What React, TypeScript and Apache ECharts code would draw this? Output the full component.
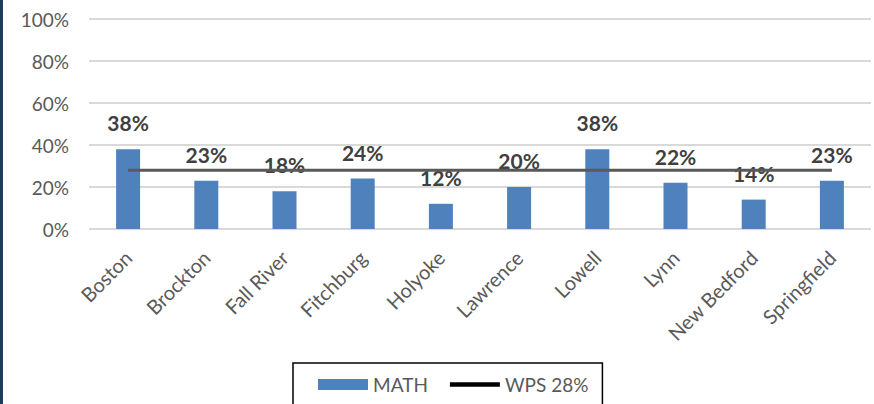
import React, { useEffect, useRef } from "react";
import * as echarts from "echarts";

const categories = ["Boston", "Brockton", "Fall River", "Fitchburg", "Holyoke", "Lawrence", "Lowell", "Lynn", "New Bedford", "Springfield"];
const mathValues = [38, 23, 18, 24, 12, 20, 38, 22, 14, 23];
const wpsValues = [28, 28, 28, 28, 28, 28, 28, 28, 28, 28];
const yTicks = [0, 20, 40, 60, 80, 100];

export default function App() {
  const ref = useRef<HTMLDivElement>(null);
  useEffect(() => {
    if (!ref.current) return;
    const chart = echarts.init(ref.current, null, { renderer: "svg" });
    const font = "Lato, 'Open Sans', sans-serif";
    chart.setOption({
      animation: false,
      backgroundColor: "#ffffff",
      textStyle: { fontFamily: font },
      grid: { left: 89, right: 3, top: 19, bottom: 175, containLabel: false },
      graphic: [
        { type: "rect", left: 0, top: 0, shape: { width: 3, height: 404 }, style: { fill: "#1f3a5f" } },
      ],
      legend: {
        left: 293,
        top: 363,
        padding: [12, 14, 14, 25],
        borderColor: "#000000",
        borderWidth: 1.5,
        itemWidth: 50,
        itemHeight: 11,
        itemGap: 22,
        textStyle: { fontFamily: font, fontSize: 19, color: "#595959" },
        data: [
          { name: "MATH", icon: "rect" },
          { name: "WPS 28%", icon: "path://M0,0L50,0L50,4.5L0,4.5Z", itemStyle: { color: "#000000" } },
        ],
      },
      xAxis: {
        type: "category",
        data: categories,
        boundaryGap: true,
        axisLine: { show: false },
        axisTick: { show: false },
        axisLabel: {
          rotate: 45,
          interval: 0,
          margin: 25,
          verticalAlign: "middle",
          align: "right",
          lineHeight: 14,
          fontFamily: font,
          fontSize: 20,
          color: "#595959",
        },
      },
      yAxis: {
        type: "value",
        min: 0,
        max: 100,
        interval: 20,
        axisLine: { show: false },
        axisTick: { show: false },
        splitLine: { lineStyle: { color: "#d9d9d9", width: 2 } },
        axisLabel: {
          margin: 20,
          fontFamily: font,
          fontSize: 19,
          color: "#595959",
          formatter: (v: number) => (yTicks.includes(v) ? `${v}%` : ""),
        },
      },
      series: [
        {
          name: "MATH",
          type: "bar",
          data: mathValues,
          barWidth: 24,
          itemStyle: { color: "#4f81bd" },
          label: {
            show: true,
            position: "top",
            distance: 16,
            formatter: (p: any) => `${p.value}%`,
            fontFamily: font,
            fontWeight: "bold",
            fontSize: 21,
            color: "#404040",
          },
          z: 2,
        },
        {
          name: "WPS 28%",
          type: "line",
          data: wpsValues,
          symbol: "none",
          lineStyle: { color: "#595959", width: 3 },
          itemStyle: { color: "#000000" },
          z: 5,
        },
      ],
    });
    return () => chart.dispose();
  }, []);
  return <div ref={ref} style={{ position: "absolute", left: 0, top: 0, width: 874, height: 404 }} />;
}
